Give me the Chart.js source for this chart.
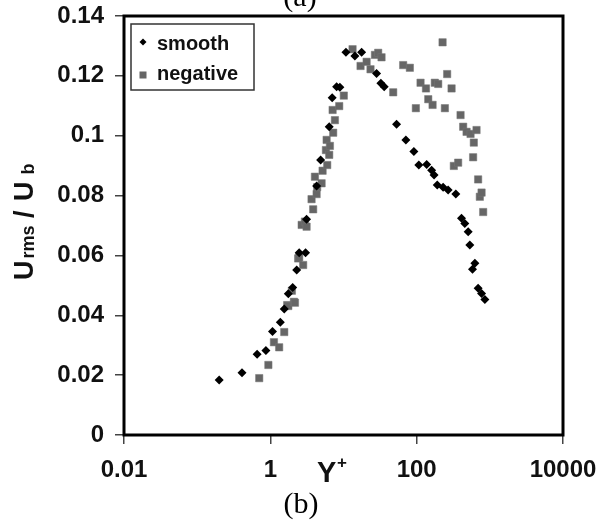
<!DOCTYPE html>
<html>
<head>
<meta charset="utf-8">
<script src="https://cdn.jsdelivr.net/npm/chart.js@4.4.1/dist/chart.umd.min.js"></script>
<style>
  body { margin: 0; background: #fff; }
  canvas { display: block; }
</style>
</head>
<body>
<canvas id="urms-chart" width="599" height="521"></canvas>
<script>
// values (Y+ , Urms/Ub)
const seriesNames = ['smooth', 'negative'];

const smoothX = [0.2, 0.41, 0.66, 0.87, 1.07, 1.37, 1.55, 1.76, 2.02, 2.29,
  2.48, 3.03, 3.13, 4.29, 4.87, 6.38, 7.01, 8.05, 8.93, 10.8,
  14.3, 17.7, 28.3, 32.4, 36.0, 53.1, 71.2, 91.6, 107, 137,
  160, 173, 191, 230, 269, 343, 410, 455, 506, 533,
  580, 624, 692, 771, 855];
const smoothY = [0.0184, 0.0208, 0.0270, 0.0282, 0.0346, 0.0377, 0.0421, 0.0472, 0.0493, 0.0551,
  0.0609, 0.0609, 0.0721, 0.0832, 0.0919, 0.1030, 0.1127, 0.1164, 0.1162, 0.1279,
  0.1266, 0.1279, 0.1208, 0.1175, 0.1164, 0.1038, 0.0986, 0.0947, 0.0902, 0.0904,
  0.0885, 0.0869, 0.0835, 0.0828, 0.0819, 0.0805, 0.0724, 0.0707, 0.0679, 0.0635,
  0.0554, 0.0574, 0.0490, 0.0473, 0.0453];

const negativeX = [0.705, 0.94, 1.12, 1.32, 1.55, 1.70, 1.76, 1.97, 2.10, 2.17,
  2.40, 2.48, 2.68, 2.81, 2.97, 3.13, 3.66, 3.85, 4.07, 4.29,
  4.37, 5.02, 5.18, 5.75, 5.88, 5.99, 6.38, 6.52, 7.10, 7.23,
  7.63, 8.74, 10.1, 13.3, 17.1, 20.7, 23.4, 26.9, 29.8, 33.1,
  47.8, 65.4, 80.7, 97.5, 113, 134, 144, 165, 177, 197,
  226, 243, 261, 300, 322, 369, 398, 432, 481, 545,
  591, 604, 658, 692, 730, 771, 811];
const negativeY = [0.0190, 0.0234, 0.0310, 0.0293, 0.0344, 0.0434, 0.0431, 0.0482, 0.0445, 0.0442,
  0.0590, 0.0594, 0.0702, 0.0568, 0.0713, 0.0696, 0.0788, 0.0754, 0.0863, 0.0805,
  0.0828, 0.0841, 0.0883, 0.0952, 0.0986, 0.0902, 0.0936, 0.0966, 0.1086, 0.1010,
  0.1052, 0.1099, 0.1134, 0.1289, 0.1233, 0.1247, 0.1222, 0.1270, 0.1277, 0.1262,
  0.1145, 0.1236, 0.1227, 0.1092, 0.1177, 0.1158, 0.1122, 0.1103, 0.1177, 0.1173,
  0.1312, 0.1092, 0.1206, 0.1158, 0.0899, 0.0910, 0.1069, 0.1030, 0.1013, 0.1006,
  0.0928, 0.0977, 0.1019, 0.0854, 0.0796, 0.0810, 0.0745];

const xTickValues = [0.01, 1, 100, 10000];
const xTickLabels = ['0.01', '1', '100', '10000'];
const yTickValues = [0, 0.02, 0.04, 0.06, 0.08, 0.1, 0.12, 0.14];
const yTickLabels = ['0', '0.02', '0.04', '0.06', '0.08', '0.1', '0.12', '0.14'];

const SANS = '"Liberation Sans", Arial, sans-serif';
const SERIF = '"Liberation Serif", "Times New Roman", serif';

const toPoints = (xs, ys) => xs.map((x, i) => ({ x: x, y: ys[i] }));

// frame, legend box and the texts Chart.js can't do (sub/superscripts)
const extrasPlugin = {
  id: 'extras',
  afterDraw(chart) {
    const { ctx, chartArea: a } = chart;
    ctx.save();

    ctx.strokeStyle = '#000';
    ctx.lineWidth = 3;
    ctx.strokeRect(a.left, a.top, a.right - a.left, a.bottom - a.top);

    // legend
    ctx.lineWidth = 1.5;
    ctx.strokeStyle = '#333';
    ctx.strokeRect(131, 24, 123, 66);
    ctx.fillStyle = '#000';
    ctx.beginPath();
    ctx.moveTo(143, 38.5); ctx.lineTo(146.5, 42); ctx.lineTo(143, 45.5); ctx.lineTo(139.5, 42);
    ctx.closePath();
    ctx.fill();
    ctx.fillStyle = '#666';
    ctx.fillRect(139.5, 71.5, 7, 7);
    ctx.fillStyle = '#111';
    ctx.font = 'bold 20px ' + SANS;
    ctx.textBaseline = 'alphabetic';
    ctx.textAlign = 'left';
    ctx.fillText(seriesNames[0], 157, 50);
    ctx.fillText(seriesNames[1], 157, 80);

    // y title: U rms / U b
    ctx.save();
    ctx.translate(33, 280);
    ctx.rotate(-Math.PI / 2);
    const pieces = [['U', 27, 0], ['rms', 18, 1], [' / ', 27, 0], ['U', 27, 0], [' b', 18, 1]];
    let pos = 0;
    pieces.forEach(([t, size, sub]) => {
      ctx.font = 'bold ' + size + 'px ' + SANS;
      ctx.fillText(t, pos, sub ? 1 : 0);
      pos += ctx.measureText(t).width + (sub ? 0 : 2);
    });
    ctx.restore();

    // x title: Y+
    ctx.font = 'bold 29px ' + SANS;
    ctx.fillText('Y', 317, 482);
    ctx.font = 'bold 17px ' + SANS;
    ctx.fillText('+', 337, 468);

    // panel letters
    ctx.font = '30px ' + SERIF;
    ctx.textAlign = 'center';
    ctx.fillStyle = '#000';
    ctx.fillText('(a)', 300, 6);
    ctx.fillText('(b)', 301, 513);

    ctx.restore();
  }
};

new Chart(document.getElementById('urms-chart').getContext('2d'), {
  type: 'scatter',
  data: {
    datasets: [
      {
        label: seriesNames[0],
        data: toPoints(smoothX, smoothY),
        pointStyle: 'rectRot',
        pointRadius: 4.5,
        backgroundColor: '#000',
        borderColor: '#000',
        borderWidth: 0
      },
      {
        label: seriesNames[1],
        data: toPoints(negativeX, negativeY),
        pointStyle: 'rect',
        pointRadius: 5.2,
        backgroundColor: '#666',
        borderColor: '#777',
        borderWidth: 0.5
      }
    ]
  },
  options: {
    responsive: false,
    animation: false,
    layout: { padding: { top: 16, right: 36, left: 0, bottom: 0 } },
    plugins: {
      legend: { display: false },
      tooltip: { enabled: false }
    },
    scales: {
      x: {
        type: 'logarithmic',
        min: 0.01,
        max: 10000,
        afterBuildTicks: s => { s.ticks = xTickValues.map(v => ({ value: v })); },
        afterFit: s => { s.height = 86; s.paddingLeft = 0; s.paddingRight = 0; },
        ticks: {
          autoSkip: false,
          maxRotation: 0,
          padding: 12,
          color: '#111',
          font: { family: SANS, size: 24, weight: 'bold' },
          callback: (v, i) => xTickLabels[i]
        },
        grid: { drawOnChartArea: false, drawTicks: true, tickLength: 9, color: '#444', lineWidth: 1.5 },
        border: { display: false }
      },
      y: {
        min: 0,
        max: 0.14,
        afterBuildTicks: s => { s.ticks = yTickValues.map(v => ({ value: v })); },
        afterFit: s => { s.width = 124; s.paddingTop = 0; s.paddingBottom = 0; },
        ticks: {
          autoSkip: false,
          padding: 11,
          color: '#111',
          font: { family: SANS, size: 24, weight: 'bold' },
          callback: (v, i) => yTickLabels[i]
        },
        grid: { drawOnChartArea: false, drawTicks: true, tickLength: 9, color: '#444', lineWidth: 1.5 },
        border: { display: false }
      }
    }
  },
  plugins: [extrasPlugin]
});
</script>
</body>
</html>
